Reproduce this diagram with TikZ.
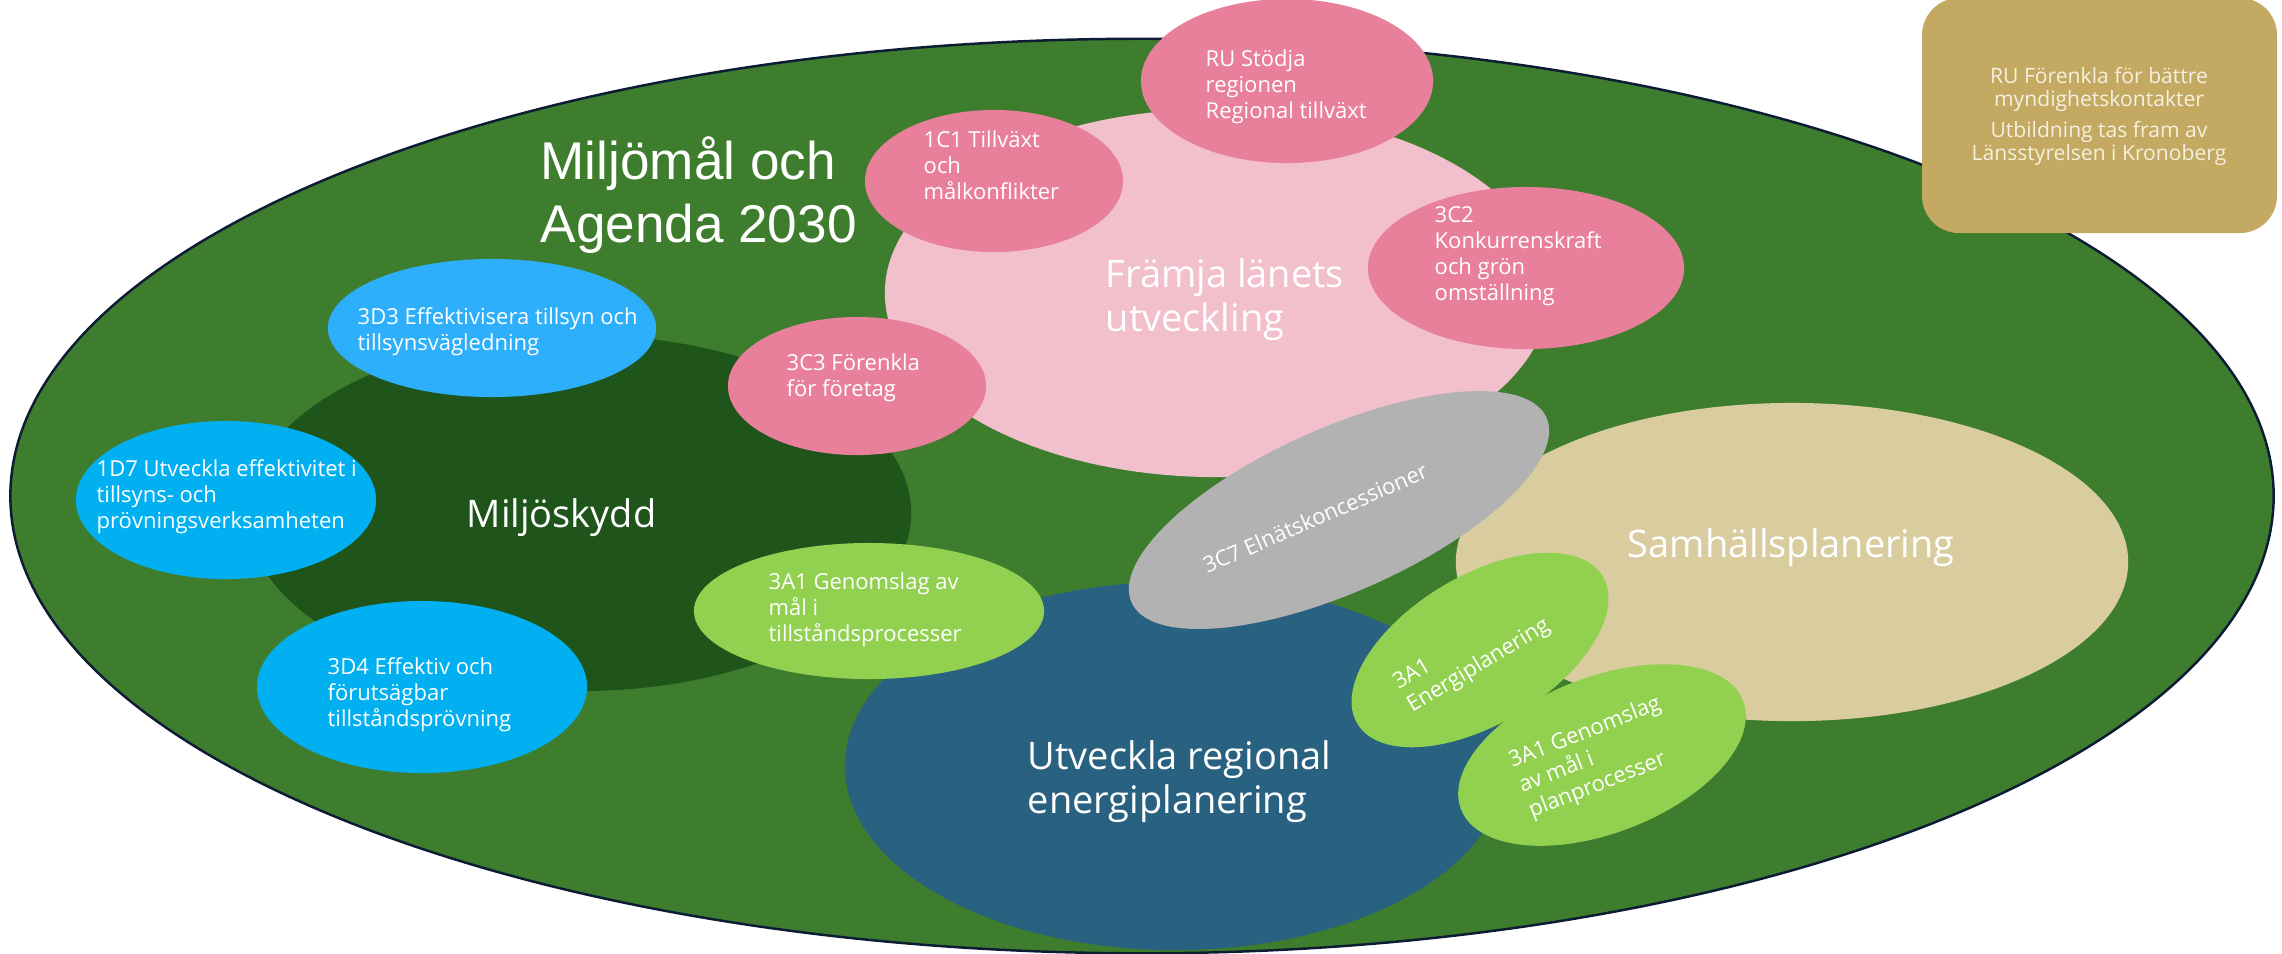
\documentclass[tikz,border=0pt]{standalone}
\usepackage{fontspec}
\setmainfont{Open Sans}
\newfontfamily\titlefont{Liberation Sans}
\definecolor{outerg}{HTML}{3E7D2E}
\definecolor{outline}{HTML}{0D1B35}
\definecolor{darkg}{HTML}{1F541B}
\definecolor{pinkbig}{HTML}{F2BFCC}
\definecolor{pinksm}{HTML}{E8809B}
\definecolor{beige}{HTML}{D9CDA0}
\definecolor{energyb}{HTML}{296180}
\definecolor{greyc}{HTML}{B2B2B2}
\definecolor{lgreen}{HTML}{92D050}
\definecolor{blueA}{HTML}{2DAFFB}
\definecolor{blueB}{HTML}{00B0F0}
\definecolor{gold}{HTML}{C4A962}
\definecolor{goldtext}{HTML}{F5F0E0}
\begin{document}
\begin{tikzpicture}[x=0.01cm,y=-0.01cm,
  smalllbl/.style={font=\fontsize{6.26}{7.4}\selectfont, text=white, align=left, inner sep=0pt, anchor=west},
  biglbl/.style={font=\fontsize{10.8}{12.5}\selectfont, text=white, align=left, inner sep=0pt, anchor=west},
  rotlbl/.style={font=\fontsize{6.26}{7.6}\selectfont, text=white, align=left, inner sep=0pt, anchor=center}]
\useasboundingbox (0,0) rectangle (2282,953);
% outer ellipse
\fill[outerg, draw=outline, line width=0.7pt] (1142,496) ellipse [x radius=11.31cm, y radius=4.57cm];
% main areas
\fill[darkg] (579,513) ellipse [x radius=3.32cm, y radius=1.78cm];
\fill[pinkbig] (1217,293) ellipse [x radius=3.32cm, y radius=1.84cm];
\fill[beige] (1792,562) ellipse [x radius=3.36cm, y radius=1.59cm];
\fill[energyb] (1175,766) ellipse [x radius=3.30cm, y radius=1.84cm];
% grey rotated
\fill[greyc, rotate around={24:(1339,510)}] (1339,510) ellipse [x radius=2.27cm, y radius=0.82cm];
% green rotated
\fill[lgreen, rotate around={31:(1480,650)}] (1480,650) ellipse [x radius=1.43cm, y radius=0.74cm];
\fill[lgreen, rotate around={21:(1602,755)}] (1602,755) ellipse [x radius=1.51cm, y radius=0.78cm];
% pink small
\fill[pinksm] (1287,81) ellipse [x radius=1.46cm, y radius=0.82cm];
\fill[pinksm] (994,181) ellipse [x radius=1.29cm, y radius=0.71cm];
\fill[pinksm] (1526,268) ellipse [x radius=1.58cm, y radius=0.81cm];
\fill[pinksm] (857,386) ellipse [x radius=1.29cm, y radius=0.69cm];
% blue small
\fill[blueA] (492,328) ellipse [x radius=1.64cm, y radius=0.69cm];
\fill[blueB] (226,500) ellipse [x radius=1.50cm, y radius=0.79cm];
\fill[blueB] (422,687) ellipse [x radius=1.65cm, y radius=0.86cm];
% light green
\fill[lgreen] (869,611) ellipse [x radius=1.75cm, y radius=0.68cm];
% gold box
\fill[gold, rounded corners=0.37cm] (1922,-2) rectangle (2277,233);

% labels
\node[font=\titlefont\fontsize{15.1}{17.9}\selectfont, text=white, align=left, inner sep=0pt, anchor=west] (title) at (540,195) {Miljömål och\\Agenda 2030};
\node[biglbl] (framja) at (1105,300) {Främja länets\\utveckling};
\node[biglbl, anchor=base west] (miljo) at (466,527) {Miljöskydd};
\node[biglbl] (utv) at (1027,782) {Utveckla regional\\energiplanering};
\node[biglbl, anchor=base west] (samh) at (1627,557) {Samhällsplanering};

\node[smalllbl] (ru) at (1205,87) {RU Stödja\\regionen\\Regional tillväxt};
\node[smalllbl] (c1) at (923,165) {1C1 Tillväxt\\och\\målkonflikter};
\node[smalllbl] (c2) at (1434,256) {3C2\\Konkurrenskraft\\och grön\\omställning};
\node[smalllbl] (c3) at (786,378) {3C3 Förenkla\\för företag};
\node[smalllbl] (d3) at (357,332) {3D3 Effektivisera tillsyn och\\tillsynsvägledning};
\node[smalllbl] (d7) at (96,497) {1D7 Utveckla effektivitet i\\tillsyns- och\\prövningsverksamheten};
\node[smalllbl] (d4) at (327,695) {3D4 Effektiv och\\förutsägbar\\tillståndsprövning};
\node[smalllbl] (a1t) at (768,610) {3A1 Genomslag av\\mål i\\tillståndsprocesser};

\node[rotlbl, rotate=23.5] (c7) at (1315,518) {3C7 Elnätskoncessioner};
\node[rotlbl, rotate=31] (a1e) at (1472,655) {3A1\\Energiplanering};
\node[rotlbl, rotate=21.5] (a1p) at (1595,758) {3A1 Genomslag\\av mål i\\planprocesser};

\node[font=\fontsize{6}{6.55}\selectfont, text=goldtext, align=center, inner sep=0pt] (box) at (2099,116.5) {RU Förenkla för bättre\\myndighetskontakter\\[2.3pt]Utbildning tas fram av\\Länsstyrelsen i Kronoberg};
\end{tikzpicture}
\end{document}
